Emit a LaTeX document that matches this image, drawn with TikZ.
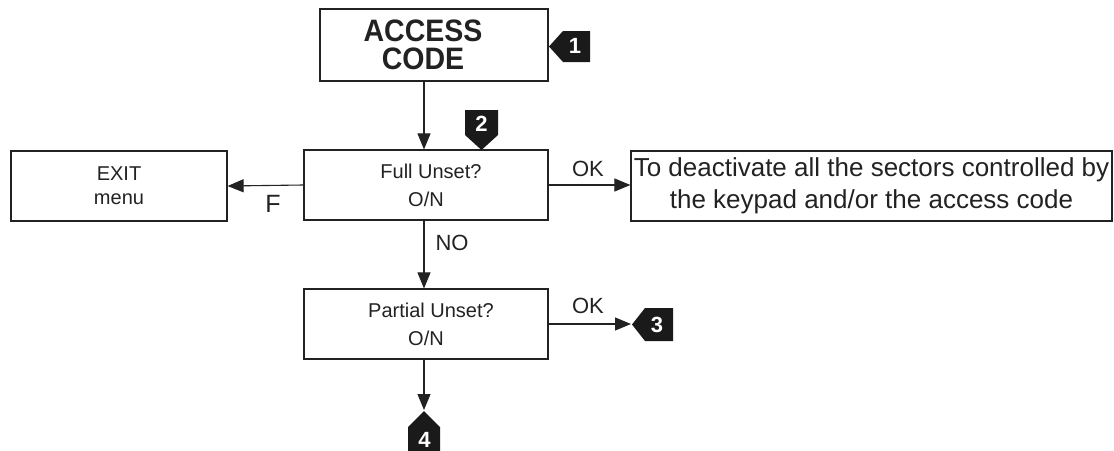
\documentclass[tikz,border=0pt]{standalone}
\usepackage{fontspec}
\setmainfont{Liberation Sans}
\newfontfamily\titlefont[FakeStretch=0.92]{Liberation Sans}
\usetikzlibrary{arrows.meta}
\definecolor{ink}{HTML}{222222}
\definecolor{badgebg}{HTML}{1A1A1A}
\tikzset{
  box/.style={draw=ink, line width=1.2pt, inner sep=0pt, align=center, text=ink},
  small/.style={font=\fontsize{20}{28}\selectfont},
  lbl/.style={inner sep=0pt, text=ink, font=\fontsize{22}{26}\selectfont},
  arr/.style={draw=ink, line width=1.1pt, -{Triangle[length=16pt,width=13pt]}},
  badge/.style={fill=badgebg},
  badgetxt/.style={inner sep=0pt, text=white, font=\fontsize{22}{22}\selectfont\bfseries}
}
\begin{document}
\begin{tikzpicture}[x=1pt,y=-1pt]
\useasboundingbox (0,0) rectangle (1114,450);
% boxes
\node[box, minimum width=228pt, minimum height=72pt, font=\titlefont\fontsize{31}{28}\selectfont\bfseries] (access) at (434,45) {ACCESS\rule{22pt}{0pt}\\CODE\rule{22pt}{0pt}};
\node[box, small, minimum width=216pt, minimum height=70pt] (exit) at (119,186) {EXIT\\[-4pt]menu};
\node[box, small, minimum width=244pt, minimum height=70pt] (full) at (426,185) {\rule{10pt}{0pt}Full Unset?\\O/N};
\node[box, minimum width=481pt, minimum height=70pt, font=\fontsize{26}{32}\selectfont] (deact) at (871.5,186) {To deactivate all the sectors controlled by\\the keypad and/or the access code};
\node[box, small, minimum width=244pt, minimum height=70pt] (partial) at (426,324) {\rule{10pt}{0pt}Partial Unset?\\O/N};
% badges
\fill[badge] (549,46.5) -- (563,31) -- (590,31) -- (590,62) -- (563,62) -- cycle;
\node[badgetxt] (b1) at (575,46) {1};
\fill[badge] (465,110) -- (498,110) -- (498,135) -- (481.5,150) -- (465,135) -- cycle;
\node[badgetxt] (b2) at (481.5,124) {2};
\fill[badge] (632,324.5) -- (645,308) -- (673,308) -- (673,341) -- (645,341) -- cycle;
\coordinate (b3tip) at (631,324);
\node[badgetxt] (b3) at (657,325) {3};
\fill[badge] (424,411) -- (440,427) -- (440,452) -- (408,452) -- (408,427) -- cycle;
\coordinate (b4tip) at (424,410);
\node[badgetxt] (b4) at (424.5,440) {4};
% connectors
\draw[arr] (access.south -| 424,0) -- (full.north -| 424,0);
\draw[arr] (full.west) -- (exit.east);
\draw[arr] (full.east) -- (full.east -| deact.west);
\draw[arr] (full.south -| 424,0) -- (partial.north -| 424,0);
\draw[arr] (partial.east |- b3tip) -- (b3tip);
\draw[arr] (partial.south -| b4tip) -- (b4tip);
% labels
\node[lbl, font=\fontsize{25}{28}\selectfont] (lf) at (273,204) {F};
\node[lbl] (lok1) at (588,169) {OK};
\node[lbl] (lno) at (452,243) {NO};
\node[lbl] (lok2) at (588,305.5) {OK};
\end{tikzpicture}
\end{document}
